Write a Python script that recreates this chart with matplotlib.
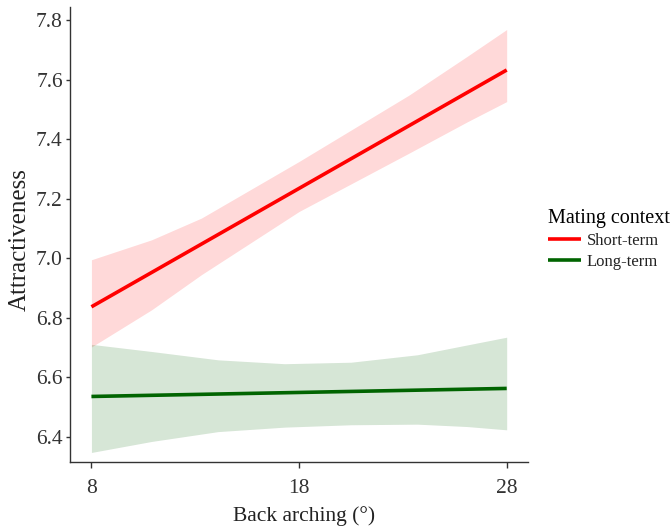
import matplotlib
matplotlib.use("Agg")
import matplotlib.pyplot as plt
import numpy as np

plt.rcParams['font.family'] = ['Liberation Serif', 'DejaVu Serif']

# Data
x_line = [8, 28]
short_line = [6.837, 7.632]
long_line = [6.536, 6.563]

short_band_x = [8, 10.9, 13.3, 18, 23.3, 26.1, 28]
short_upper = [6.995, 7.062, 7.135, 7.325, 7.548, 7.678, 7.768]
short_lower = [6.702, 6.827, 6.945, 7.157, 7.353, 7.458, 7.526]

long_band_x = [8, 10.9, 14.1, 17.3, 20.5, 23.7, 26.1, 28]
long_upper = [6.711, 6.687, 6.659, 6.646, 6.651, 6.676, 6.709, 6.735]
long_lower = [6.348, 6.385, 6.418, 6.433, 6.441, 6.443, 6.435, 6.424]

x_ticks = [8, 18, 28]
y_ticks = [6.4, 6.6, 6.8, 7.0, 7.2, 7.4, 7.6, 7.8]

W, H = 671, 528
fig = plt.figure(figsize=(W / 100, H / 100), dpi=100)
ax = fig.add_axes([0.105, 0.125, 0.682, 0.862])

ax.fill_between(short_band_x, short_lower, short_upper, color='#FF0000', alpha=0.15, linewidth=0)
ax.fill_between(long_band_x, long_lower, long_upper, color='#006400', alpha=0.16, linewidth=0)
ax.plot(x_line, short_line, color='#FF0000', lw=2.6, label='Short-term', solid_capstyle='butt')
ax.plot(x_line, long_line, color='#006400', lw=2.6, label='Long-term', solid_capstyle='butt')

ax.set_xlim(6.99, 29.03)
ax.set_ylim(6.316, 7.844)
ax.set_xticks(x_ticks)
ax.set_xticklabels([str(v) for v in x_ticks])
ax.set_yticks(y_ticks)
ax.set_yticklabels([f"{v:.1f}" for v in y_ticks])

for s in ['top', 'right']:
    ax.spines[s].set_visible(False)
for s in ['left', 'bottom']:
    ax.spines[s].set_color('#333333')
    ax.spines[s].set_linewidth(1.0)
ax.tick_params(axis='x', direction='out', length=4.3, width=1.0, color='#333333',
               labelsize=15.5, labelcolor='#333333', pad=8)
ax.tick_params(axis='y', direction='out', length=3, width=1.0, color='#333333',
               labelsize=15.5, labelcolor='#333333', pad=2.5)

fig.text(304 / W, 1 - 516 / H, 'Back arching (°)', fontsize=15.5, color='#222222',
         ha='center', va='center')
fig.text(20 / W, 1 - 240 / H, 'Attractiveness', fontsize=18, color='#222222',
         ha='center', va='center', rotation=90)

axw = 0.682 * W
axh = 0.862 * H
leg = ax.legend(title='Mating context', loc='center left',
                bbox_to_anchor=(1.0 + 3 / axw, 0.5 - 5 / axh),
                frameon=False, fontsize=12, title_fontsize=14.5, handlelength=2.0,
                handletextpad=0.35, borderaxespad=0.6, labelspacing=0.3)
leg._legend_box.align = 'left'
for t in leg.get_texts():
    t.set_color('#222222')

fig.savefig('out.png', dpi=100)
